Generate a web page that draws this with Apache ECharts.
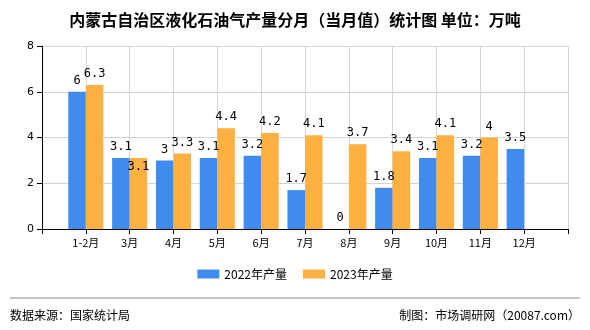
<!DOCTYPE html>
<html>
<head>
<meta charset="utf-8">
<script src="https://cdn.jsdelivr.net/npm/echarts@6/dist/echarts.min.js"></script>
<style>
  html, body { margin: 0; padding: 0; background: #fff; }
  #chart { width: 590px; height: 330px; }
</style>
</head>
<body>
<div id="chart"></div>
<script>
// Monthly LPG output for Inner Mongolia, 10k tonnes
const months = ['1-2月', '3月', '4月', '5月', '6月', '7月', '8月', '9月', '10月', '11月', '12月'];
const output2022 = [6, 3.1, 3, 3.1, 3.2, 1.7, 0, 1.8, 3.1, 3.2, 3.5];
const output2023 = [6.3, 3.1, 3.3, 4.4, 4.2, 4.1, 3.7, 3.4, 4.1, 4, null];
const yTicks = [0, 2, 4, 6, 8];

// Category axis padded with a blank slot at each end so the months sit on grid lines
const cats = [''].concat(months, ['']);
const pad = arr => [null].concat(arr, [null]);

const labelFont = { fontFamily: 'DejaVu Sans Mono', fontSize: 12, color: '#000' };

const data2023 = pad(output2023).map((v, i) => {
  // the March value label sits inside the bar where it would clash with its neighbour
  if (i === 2) return { value: v, label: { position: 'insideTop', distance: 3 } };
  return v;
});

const chart = echarts.init(document.getElementById('chart'), null, { renderer: 'canvas' });
chart.setOption({
  animation: false,
  backgroundColor: '#fff',
  title: {
    text: '内蒙古自治区液化石油气产量分月（当月值）统计图 单位：万吨',
    left: 'center',
    top: 7,
    textStyle: { fontFamily: 'Noto Sans CJK SC', fontSize: 16, fontWeight: 'bold', color: '#000' }
  },
  legend: {
    bottom: 45,
    left: 'center',
    itemWidth: 22,
    itemHeight: 9,
    itemGap: 16,
    icon: 'rect',
    textStyle: { fontFamily: 'Noto Sans CJK SC', fontSize: 12, color: '#000' },
    data: ['2022年产量', '2023年产量']
  },
  grid: { left: 42, right: 22, top: 46, bottom: 101, containLabel: false },
  xAxis: {
    type: 'category',
    data: cats,
    boundaryGap: false,
    axisLine: { lineStyle: { color: '#000' } },
    axisTick: { show: true, alignWithLabel: true, lineStyle: { color: '#000' } },
    axisLabel: { interval: 0, color: '#000', fontFamily: 'Noto Sans CJK SC', fontSize: 11, margin: 8 },
    splitLine: { show: true, lineStyle: { color: '#d4d4d4' } }
  },
  yAxis: {
    type: 'value',
    min: yTicks[0],
    max: yTicks[yTicks.length - 1],
    interval: 2,
    axisLine: { show: true, lineStyle: { color: '#000' } },
    axisTick: { show: true, lineStyle: { color: '#000' } },
    axisLabel: { color: '#000', fontFamily: 'DejaVu Sans', fontSize: 11, margin: 8 },
    splitLine: { lineStyle: { color: '#d4d4d4' } }
  },
  series: [
    {
      name: '2022年产量',
      type: 'bar',
      data: pad(output2022),
      barGap: '0%',
      barCategoryGap: '20%',
      itemStyle: { color: '#3f8bee' },
      label: Object.assign({ show: true, position: 'top', distance: 5 }, labelFont)
    },
    {
      name: '2023年产量',
      type: 'bar',
      data: data2023,
      itemStyle: { color: '#fcb142' },
      label: Object.assign({ show: true, position: 'top', distance: 5 }, labelFont)
    }
  ],
  graphic: [
    { type: 'line', shape: { x1: 10, y1: 298, x2: 580, y2: 298 }, style: { stroke: '#888', lineWidth: 1 } },
    { type: 'text', left: 10, top: 309, style: { text: '数据来源：国家统计局', font: '12px "Noto Sans CJK SC"', fill: '#000' } },
    { type: 'text', right: 10, top: 309, style: { text: '制图：市场调研网（20087.com）', font: '12px "Noto Sans CJK SC"', fill: '#000' } }
  ]
});
</script>
</body>
</html>
